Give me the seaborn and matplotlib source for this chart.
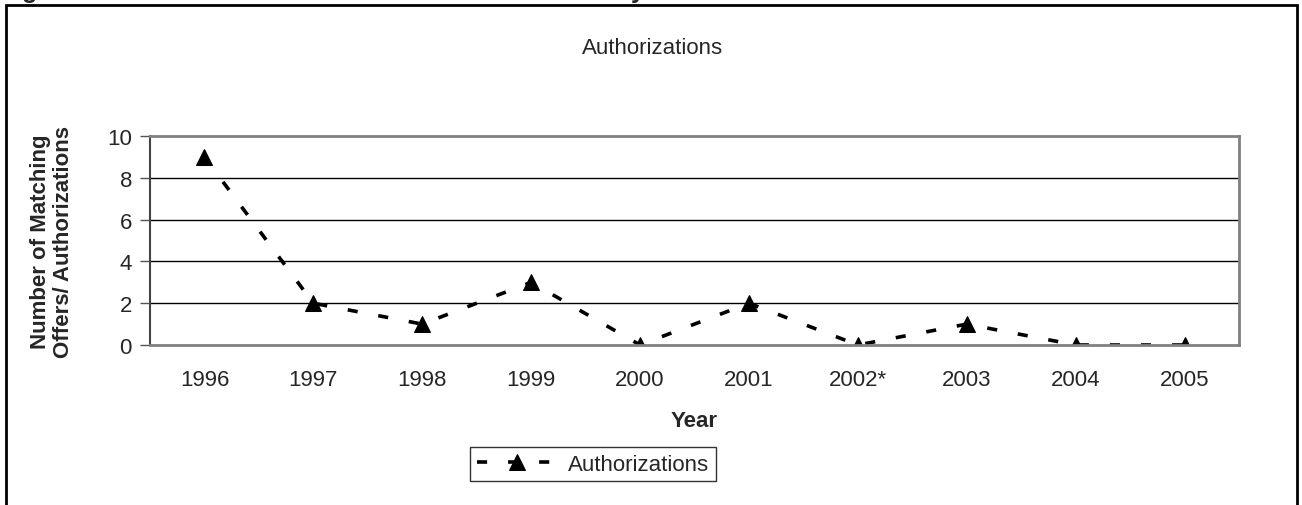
import matplotlib
matplotlib.use("Agg")
import matplotlib.pyplot as plt
import seaborn as sns
import pandas as pd
from matplotlib.patches import Rectangle

# data
years = ['1996', '1997', '1998', '1999', '2000', '2001', '2002*', '2003', '2004', '2005']
authorizations = [9, 2, 1, 3, 0, 2, 0, 1, 0, 0]
yticks = [0, 2, 4, 6, 8, 10]

df = pd.DataFrame({'Year': years, 'Authorizations': authorizations})

sns.set_theme(style="white")
plt.rcParams['font.family'] = ['Liberation Sans', 'DejaVu Sans']

fig = plt.figure(figsize=(13.02, 5.06), dpi=100)
ax = fig.add_axes([0.1152, 0.3162, 0.8364, 0.413])

sns.lineplot(data=df, x='Year', y='Authorizations', ax=ax, color='black',
             marker='^', markersize=12, markeredgecolor='black', linewidth=2.6,
             label='Authorizations', sort=False)
ax.lines[0].set_dashes((2.8, 5.8))

ax.set_xlim(-0.5, len(years) - 0.5)
ax.set_ylim(0, 10)
ax.set_yticks(yticks)
ax.set_yticklabels([str(t) for t in yticks], fontsize=16)
ax.set_xticks(range(len(years)))
ax.set_xticklabels(years, fontsize=16)
ax.tick_params(axis='y', length=7, width=1, color='#555555', pad=6, left=True)
ax.tick_params(axis='x', length=0, pad=17)

for t in yticks[1:-1]:
    ax.axhline(t, color='black', linewidth=1, zorder=0)

for side in ['top', 'right', 'bottom']:
    ax.spines[side].set_color('#808080')
    ax.spines[side].set_linewidth(2)
ax.spines['left'].set_color('#444444')
ax.spines['left'].set_linewidth(1.5)

ax.set_title('Authorizations', fontsize=16, pad=60, x=0.461)
ax.set_xlabel('Year', fontsize=16, fontweight='bold', labelpad=15)
ax.set_ylabel('Number of Matching\nOffers/ Authorizations', fontsize=16,
              fontweight='bold', labelpad=24, linespacing=1.1)

leg = ax.legend(loc='center', bbox_to_anchor=(0.4555, 0.081),
                bbox_transform=fig.transFigure, fontsize=16, frameon=True,
                fancybox=False, handlelength=3.6, handletextpad=0.5,
                borderpad=0.3)
leg.get_frame().set_edgecolor('black')
leg.get_frame().set_linewidth(1)

# outer chart border, cut off at the bottom
fig.patches.append(Rectangle((6 / 1302, -0.1), 1291 / 1302, 1.1 - 6 / 506,
                             transform=fig.transFigure, fill=False,
                             edgecolor='black', linewidth=2, clip_on=False))

# caption sitting just above the image edge
fig.text(0.0, 1.0 + 2 / 506, 'Figure 2: Number of Matched Offers/Authorizations by Year',
         fontsize=18, fontweight='bold', va='baseline', ha='left')

fig.savefig('out.png', dpi=100)
